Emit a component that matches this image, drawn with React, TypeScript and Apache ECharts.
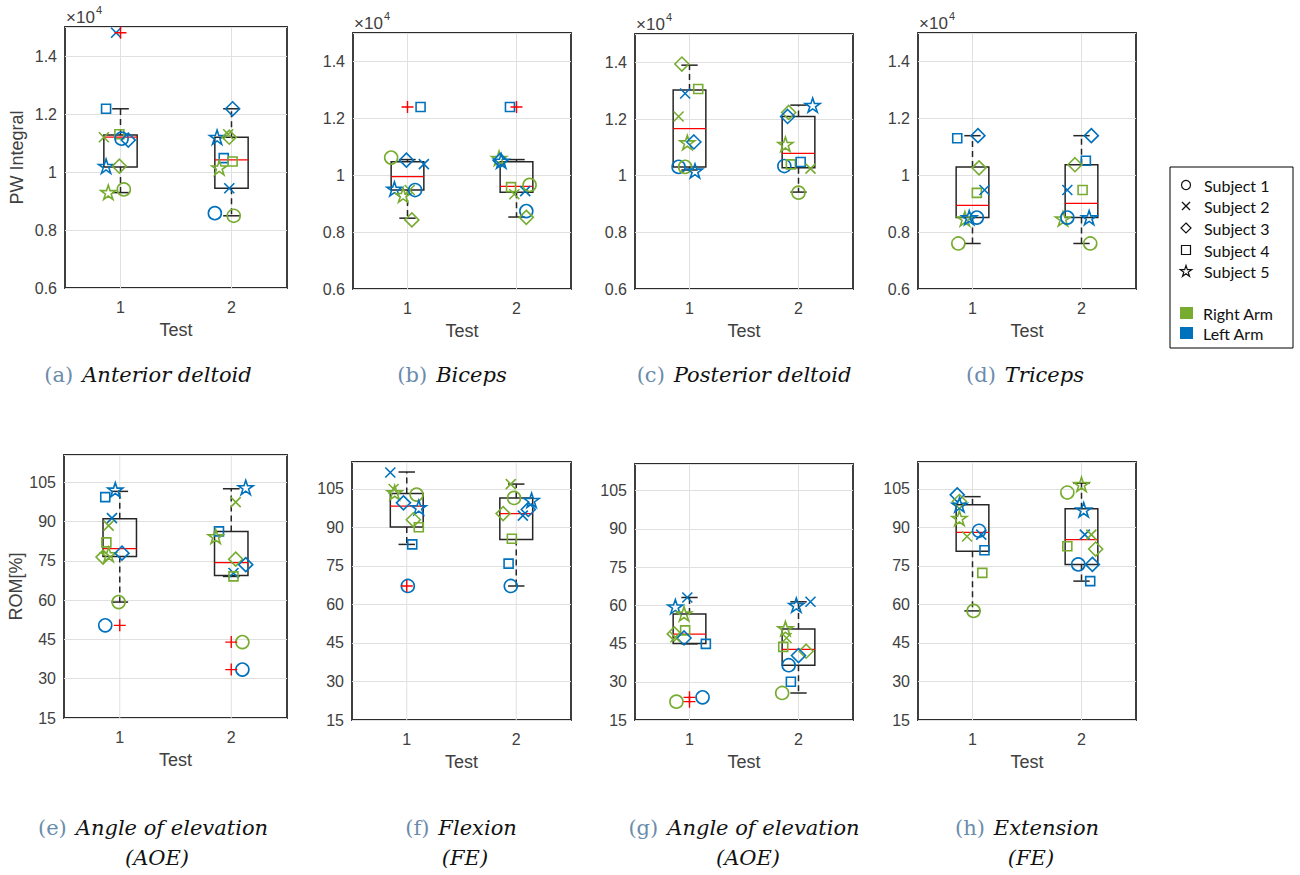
import React, { useEffect, useRef } from 'react';
import * as echarts from 'echarts';

// ---------- data ----------
const xTickLabels = ['1', '2'];
const pwTicks = [0.6, 0.8, 1, 1.2, 1.4];
const romTicks = [15, 30, 45, 60, 75, 90, 105];
const subjectLabels = ['Subject 1', 'Subject 2', 'Subject 3', 'Subject 4', 'Subject 5'];
const armLabels = ['Right Arm', 'Left Arm'];

// box: [test, lowerWhisker, q1, median, q3, upperWhisker]
// points: [x, value, subject, arm(0 right, 1 left)]
const boxA = [[1, 0.929, 1.017, 1.12, 1.128, 1.218], [2, 0.849, 0.944, 1.042, 1.12, 1.218]];
const outA = [[1, 1.48]];
const ptsA = [
  [0.96, 1.48, 2, 1], [0.87, 1.218, 4, 1], [0.85, 1.12, 2, 0], [0.99, 1.13, 4, 0], [1.01, 1.115, 1, 1],
  [1.07, 1.11, 3, 1], [0.87, 1.02, 5, 1], [0.99, 1.02, 3, 0], [1.03, 0.94, 1, 0], [0.89, 0.93, 5, 0],
  [2.01, 1.218, 3, 1], [1.87, 1.12, 5, 1], [1.98, 1.12, 3, 0], [1.93, 1.048, 4, 1], [2.01, 1.036, 4, 0],
  [1.89, 1.015, 5, 0], [1.98, 0.944, 2, 1], [1.85, 0.858, 1, 1], [2.02, 0.849, 1, 0], [1.97, 1.13, 2, 0],
];

const boxB = [[1, 0.849, 0.948, 0.995, 1.047, 1.055], [2, 0.853, 0.94, 0.961, 1.047, 1.055]];
const outB = [[1, 1.24], [2, 1.24]];
const ptsB = [
  [1.12, 1.24, 4, 1], [0.85, 1.062, 1, 0], [0.99, 1.053, 3, 1], [1.15, 1.039, 2, 1], [0.88, 0.952, 5, 1],
  [0.96, 0.93, 5, 0], [1.02, 0.948, 2, 0], [1.07, 0.948, 1, 1], [1.04, 0.843, 3, 0],
  [1.94, 1.24, 4, 1], [1.84, 1.06, 5, 0], [1.85, 1.052, 3, 1], [1.86, 1.05, 5, 1], [1.95, 0.958, 4, 0],
  [1.98, 0.933, 2, 0], [2.08, 0.944, 2, 1], [2.12, 0.966, 1, 0], [2.09, 0.874, 1, 1], [2.09, 0.852, 3, 0],
];

const boxC = [[1, 1.02, 1.031, 1.166, 1.302, 1.39], [2, 0.942, 1.028, 1.079, 1.209, 1.249]];
const outC: number[][] = [];
const ptsC = [
  [0.93, 1.394, 3, 0], [0.96, 1.29, 2, 1], [1.08, 1.306, 4, 0], [0.9, 1.209, 2, 0], [0.98, 1.117, 5, 0],
  [1.04, 1.119, 3, 1], [0.9, 1.031, 1, 1], [0.96, 1.031, 1, 0], [1.05, 1.017, 5, 1],
  [2.13, 1.249, 5, 1], [1.91, 1.223, 3, 0], [1.9, 1.209, 3, 1], [1.88, 1.111, 5, 0], [1.87, 1.034, 1, 1],
  [1.93, 1.04, 4, 0], [2.02, 1.048, 4, 1], [2.11, 1.025, 2, 0], [2.0, 0.94, 1, 0],
];

const boxD = [[1, 0.76, 0.851, 0.894, 1.029, 1.139], [2, 0.76, 0.851, 0.901, 1.037, 1.139]];
const outD: number[][] = [];
const ptsD = [
  [0.86, 1.13, 4, 1], [1.05, 1.139, 3, 1], [1.06, 1.026, 3, 0], [1.04, 0.938, 4, 0], [1.11, 0.948, 2, 1],
  [0.93, 0.847, 5, 0], [0.97, 0.851, 5, 1], [1.04, 0.851, 1, 1], [0.87, 0.76, 1, 0],
  [2.09, 1.139, 3, 1], [2.04, 1.051, 4, 1], [1.94, 1.037, 3, 0], [1.87, 0.948, 2, 1], [2.01, 0.948, 4, 0],
  [1.83, 0.847, 5, 0], [1.87, 0.851, 1, 1], [2.07, 0.851, 5, 1], [2.08, 0.76, 1, 0],
];

const boxE = [[1, 59.3, 76.7, 79.7, 91.1, 101.6], [2, 69.1, 69.5, 74.4, 86.3, 102.6]];
const outE = [[1, 50.4], [2, 44.0], [2, 33.5]];
const ptsE = [
  [0.96, 102.2, 5, 1], [0.87, 99.4, 4, 1], [0.93, 91.4, 2, 1], [0.9, 88.5, 2, 0], [0.88, 82.1, 4, 0],
  [0.9, 77.5, 5, 0], [0.85, 76.5, 3, 0], [1.02, 78, 3, 1], [0.99, 59.3, 1, 0], [0.87, 50.4, 1, 1],
  [2.13, 103.1, 5, 1], [2.04, 97.5, 2, 0], [1.89, 86.3, 4, 1], [1.86, 84.4, 5, 0], [2.04, 75.7, 3, 0],
  [2.13, 73.6, 3, 1], [2.02, 70.4, 2, 1], [2.02, 69.1, 4, 0], [2.1, 44.0, 1, 0], [2.1, 33.5, 1, 1],
];

const boxF = [[1, 83.4, 90.2, 98.3, 103.2, 111.6], [2, 67.2, 85.3, 95.4, 101.5, 106.9]];
const outF = [[1, 67.2]];
const ptsF = [
  [0.85, 111.4, 2, 1], [0.88, 105, 2, 0], [0.89, 103.6, 5, 0], [1.09, 102.8, 1, 0], [0.97, 99.6, 3, 1],
  [1.11, 97.8, 5, 1], [1.06, 93, 3, 0], [1.11, 90.1, 4, 0], [1.05, 83.4, 4, 1], [1.01, 67.2, 1, 1],
  [1.95, 106.9, 2, 0], [1.98, 101.5, 1, 0], [2.14, 100.6, 5, 1], [1.88, 95.4, 3, 0], [2.11, 97, 3, 1],
  [2.06, 94.6, 2, 1], [1.96, 85.6, 4, 0], [1.93, 75.9, 4, 1], [1.95, 67.2, 1, 1],
];

const boxG = [[1, 44.9, 45.0, 48.7, 56.6, 63.1], [2, 25.6, 36.5, 42.7, 50.7, 61.4]];
const outG = [[1, 22.2], [1, 23.9]];
const ptsG = [
  [0.87, 59.5, 5, 1], [0.98, 63.1, 2, 1], [0.95, 56.7, 5, 0], [0.86, 48.8, 3, 0], [0.96, 50.2, 4, 0],
  [0.95, 47.2, 3, 1], [0.87, 47.5, 2, 0], [1.15, 44.9, 4, 1], [0.88, 22.2, 1, 0], [1.12, 23.9, 1, 1],
  [1.98, 60.1, 5, 1], [2.11, 61.4, 2, 1], [1.88, 50.9, 5, 0], [1.89, 47.2, 2, 0], [1.86, 43.7, 4, 0],
  [2.07, 42.0, 3, 0], [2.0, 40.3, 3, 1], [1.91, 36.5, 1, 1], [1.93, 30, 4, 1], [1.85, 25.6, 1, 0],
];

const boxH = [[1, 57.5, 80.7, 88.1, 98.8, 102], [2, 69.1, 75.6, 85.3, 97.3, 107.2]];
const outH: number[][] = [];
const ptsH = [
  [0.86, 102.7, 3, 1], [0.88, 100.1, 3, 0], [0.88, 98.8, 5, 1], [0.88, 93.6, 5, 0], [0.95, 86.5, 2, 0],
  [1.06, 88.7, 1, 1], [1.08, 87.2, 2, 1], [1.11, 81.1, 4, 1], [1.09, 72.3, 4, 0], [1.01, 57.5, 1, 0],
  [2.0, 106.8, 5, 0], [1.87, 103.6, 1, 0], [2.02, 96.9, 5, 1], [2.03, 87.2, 2, 1], [2.09, 87.2, 2, 0],
  [1.87, 82.7, 4, 0], [2.13, 81.6, 3, 0], [1.97, 75.6, 1, 1], [2.1, 75.6, 3, 1], [2.08, 69.1, 4, 1],
];

// ---------- style / layout ----------
const GREEN = '#77AC30';
const BLUE = '#0072BD';
const ARM_COLORS = [GREEN, BLUE];
const AXIS_TXT = '#404040';
const SANS = 'Liberation Sans, Arial, sans-serif';
const SERIF = 'DejaVu Serif, serif';
const BOX_HALF = 0.15;
const CAP_HALF = 0.075;

function starPoints(cx: number, cy: number, r: number) {
  const pts: number[][] = [];
  for (let i = 0; i < 10; i++) {
    const rr = i % 2 ? r * 0.382 : r;
    const a = -Math.PI / 2 + (i * Math.PI) / 5;
    pts.push([cx + rr * Math.cos(a), cy + rr * Math.sin(a)]);
  }
  return pts;
}
const STAR_PATH = 'path://M' + starPoints(0, 0, 10).map((p) => p[0].toFixed(3) + ',' + p[1].toFixed(3)).join('L') + 'Z';
const SYMBOLS = ['circle', 'path://M0,0L10,10M0,10L10,0', 'diamond', 'rect', STAR_PATH];
const SIZES = [13, 10, 14, 9, 15];
const PLUS = 'path://M5,0L5,10M0,5L10,5';

const panels = [
  { box: boxA, out: outA, pts: ptsA, top: true, grid: { left: 65, top: 27, width: 222, height: 261 }, lab: '(a)', cap: 'Anterior deltoid', cx: 148, yName: 'PW Integral' },
  { box: boxB, out: outB, pts: ptsB, top: true, grid: { left: 353, top: 33, width: 218, height: 256 }, lab: '(b)', cap: 'Biceps', cx: 452 },
  { box: boxC, out: outC, pts: ptsC, top: true, grid: { left: 635, top: 34, width: 218, height: 255 }, lab: '(c)', cap: 'Posterior deltoid', cx: 744 },
  { box: boxD, out: outD, pts: ptsD, top: true, grid: { left: 918, top: 33, width: 218, height: 256 }, lab: '(d)', cap: 'Triceps', cx: 1025 },
  { box: boxE, out: outE, pts: ptsE, top: false, grid: { left: 64, top: 455, width: 223, height: 263 }, lab: '(e)', cap: 'Angle of elevation', cap2: '(AOE)', cx: 153, yName: 'ROM[%]' },
  { box: boxF, out: outF, pts: ptsF, top: false, grid: { left: 352, top: 462, width: 219, height: 258 }, lab: '(f)', cap: 'Flexion', cap2: '(FE)', cx: 461 },
  { box: boxG, out: outG, pts: ptsG, top: false, grid: { left: 635, top: 464, width: 218, height: 256 }, lab: '(g)', cap: 'Angle of elevation', cap2: '(AOE)', cx: 744 },
  { box: boxH, out: outH, pts: ptsH, top: false, grid: { left: 918, top: 462, width: 218, height: 258 }, lab: '(h)', cap: 'Extension', cap2: '(FE)', cx: 1027 },
];

function tickFormatter(ticks: number[]) {
  return (v: number) => {
    const t = ticks.find((k) => Math.abs(k - v) < 1e-6);
    return t === undefined ? '' : String(t);
  };
}

function renderBox(params: any, api: any) {
  const x = api.value(0);
  const lw = api.value(1), q1 = api.value(2), md = api.value(3), q3 = api.value(4), uw = api.value(5);
  const xl = api.coord([x - BOX_HALF, q1])[0];
  const xr = api.coord([x + BOX_HALF, q1])[0];
  const xc = api.coord([x, q1])[0];
  const cl = api.coord([x - CAP_HALF, q1])[0];
  const cr = api.coord([x + CAP_HALF, q1])[0];
  const yq1 = api.coord([x, q1])[1];
  const yq3 = api.coord([x, q3])[1];
  const ymd = api.coord([x, md])[1];
  const yuw = api.coord([x, uw])[1];
  const ylw = api.coord([x, lw])[1];
  const cs = params.coordSys;
  const k = '#262626';
  return {
    type: 'group',
    children: [
      { type: 'line', shape: { x1: xc, y1: cs.y, x2: xc, y2: cs.y + cs.height }, style: { stroke: '#e0e0e0', lineWidth: 1 } },
      { type: 'line', shape: { x1: xc, y1: yq3, x2: xc, y2: yuw }, style: { stroke: k, lineWidth: 1.5, lineDash: [6, 4] } },
      { type: 'line', shape: { x1: xc, y1: yq1, x2: xc, y2: ylw }, style: { stroke: k, lineWidth: 1.5, lineDash: [6, 4] } },
      { type: 'line', shape: { x1: cl, y1: yuw, x2: cr, y2: yuw }, style: { stroke: k, lineWidth: 1.5 } },
      { type: 'line', shape: { x1: cl, y1: ylw, x2: cr, y2: ylw }, style: { stroke: k, lineWidth: 1.5 } },
      { type: 'rect', shape: { x: xl, y: yq3, width: xr - xl, height: yq1 - yq3 }, style: { fill: 'none', stroke: k, lineWidth: 1.5 } },
      { type: 'line', shape: { x1: xl, y1: ymd, x2: xr, y2: ymd }, style: { stroke: '#ff0000', lineWidth: 1.3 } },
    ],
  };
}

function buildOption() {
  const grid: any[] = [];
  const xAxis: any[] = [];
  const yAxis: any[] = [];
  const series: any[] = [];
  const graphics: any[] = [];

  panels.forEach((p, i) => {
    grid.push({ ...p.grid, show: true, borderColor: '#2b2b2b', borderWidth: 1.8, backgroundColor: '#fff', containLabel: false });
    xAxis.push({
      gridIndex: i, type: 'value', min: 0.5, max: 2.5, interval: 0.5,
      axisLine: { show: false }, axisTick: { show: false }, splitLine: { show: false },
      axisLabel: {
        margin: 11, fontSize: 16, color: AXIS_TXT, fontFamily: SANS,
        formatter: (v: number) => {
          const r = Math.round(v);
          return Math.abs(v - r) < 1e-6 && r >= 1 && r <= xTickLabels.length ? xTickLabels[r - 1] : '';
        },
      },
      name: 'Test', nameLocation: 'middle', nameGap: 33,
      nameTextStyle: { fontSize: 18, color: AXIS_TXT, fontFamily: SANS },
    });
    const ticks = p.top ? pwTicks : romTicks;
    yAxis.push({
      gridIndex: i, type: 'value',
      min: p.top ? 0.6 : 15, max: p.top ? 1.5 : 115.5, interval: p.top ? 0.2 : 15,
      axisLine: { show: false }, axisTick: { show: false },
      splitLine: { show: true, lineStyle: { color: '#e0e0e0', width: 1 } },
      axisLabel: { margin: 8, fontSize: 16, color: AXIS_TXT, fontFamily: SANS, showMaxLabel: false, formatter: tickFormatter(ticks) },
      name: p.yName || '', nameLocation: 'middle', nameGap: 39,
      nameTextStyle: { fontSize: 18, color: AXIS_TXT, fontFamily: SANS },
    });
    series.push({
      type: 'custom', xAxisIndex: i, yAxisIndex: i, z: 2, silent: true,
      data: p.box, encode: { x: 0, y: [1, 2, 3, 4, 5] }, renderItem: renderBox,
    });
    series.push({
      type: 'scatter', xAxisIndex: i, yAxisIndex: i, z: 3, silent: true, symbolKeepAspect: true,
      data: p.pts.map(([x, y, s, a]) => ({
        value: [x, y], symbol: SYMBOLS[s - 1], symbolSize: SIZES[s - 1],
        itemStyle: { color: 'rgba(0,0,0,0)', borderColor: ARM_COLORS[a], borderWidth: 1.6, opacity: 1 },
      })),
    });
    series.push({
      type: 'scatter', xAxisIndex: i, yAxisIndex: i, z: 4, silent: true,
      symbol: PLUS, symbolSize: 12,
      itemStyle: { color: 'rgba(0,0,0,0)', borderColor: '#ff0000', borderWidth: 1.4, opacity: 1 },
      data: p.out,
    });

    if (p.top) {
      graphics.push({ type: 'text', x: p.grid.left + 1, y: p.grid.top - 10, style: { text: '×10', fontSize: 17, fontFamily: SANS, fill: AXIS_TXT, align: 'left', verticalAlign: 'middle' } });
      graphics.push({ type: 'text', x: p.grid.left + 31, y: p.grid.top - 17, style: { text: '4', fontSize: 11, fontFamily: SANS, fill: AXIS_TXT, align: 'left', verticalAlign: 'middle' } });
    }
    const capY = p.top ? 375 : 828;
    graphics.push({
      type: 'text', x: p.cx, y: capY,
      style: {
        text: '{l|' + p.lab + '}{c|' + p.cap + '}', align: 'center', verticalAlign: 'middle',
        rich: {
          l: { fontFamily: SERIF, fontSize: 21, fill: '#6a8cab', padding: [0, 9, 0, 0] },
          c: { fontFamily: SERIF, fontSize: 21, fontStyle: 'italic', fill: '#111' },
        },
      },
    });
    if (p.cap2) {
      graphics.push({ type: 'text', x: p.cx + 4, y: 858, style: { text: p.cap2, fontFamily: SERIF, fontSize: 21, fontStyle: 'italic', fill: '#111', align: 'center', verticalAlign: 'middle' } });
    }
  });

  // legend
  const lx = 1186;
  const ly = [185, 206, 228, 250, 271];
  const ink = { fill: 'none', stroke: '#111', lineWidth: 1.2 };
  graphics.push({ type: 'rect', shape: { x: 1170, y: 167, width: 123, height: 181 }, style: { fill: '#fff', stroke: '#000', lineWidth: 1 } });
  graphics.push({ type: 'circle', shape: { cx: lx, cy: ly[0], r: 4.5 }, style: ink });
  graphics.push({ type: 'line', shape: { x1: lx - 4, y1: ly[1] - 4, x2: lx + 4, y2: ly[1] + 4 }, style: ink });
  graphics.push({ type: 'line', shape: { x1: lx - 4, y1: ly[1] + 4, x2: lx + 4, y2: ly[1] - 4 }, style: ink });
  graphics.push({ type: 'polygon', shape: { points: [[lx, ly[2] - 5], [lx + 5, ly[2]], [lx, ly[2] + 5], [lx - 5, ly[2]]] }, style: ink });
  graphics.push({ type: 'rect', shape: { x: lx - 4.5, y: ly[3] - 4.5, width: 9, height: 9 }, style: ink });
  graphics.push({ type: 'polygon', shape: { points: starPoints(lx, ly[4] + 0.5, 6) }, style: ink });
  subjectLabels.forEach((t, j) => {
    graphics.push({ type: 'text', x: 1204, y: ly[j], style: { text: t, fontFamily: 'Lato, sans-serif', fontSize: 16, fill: '#111', align: 'left', verticalAlign: 'middle' } });
  });
  const ay = [313, 333];
  armLabels.forEach((t, j) => {
    graphics.push({ type: 'rect', shape: { x: 1180, y: ay[j] - 6, width: 13, height: 12 }, style: { fill: ARM_COLORS[j], stroke: 'none' } });
    graphics.push({ type: 'text', x: 1203, y: ay[j], style: { text: t, fontFamily: 'Lato, sans-serif', fontSize: 16, fill: '#111', align: 'left', verticalAlign: 'middle' } });
  });

  return {
    animation: false,
    backgroundColor: '#fff',
    grid, xAxis, yAxis, series,
    graphic: { elements: graphics },
  };
}

export default function App() {
  const ref = useRef<HTMLDivElement>(null);
  useEffect(() => {
    if (!ref.current) return;
    const chart = echarts.init(ref.current, undefined, { renderer: 'svg' });
    chart.setOption(buildOption() as any);
    return () => chart.dispose();
  }, []);
  return <div ref={ref} style={{ position: 'fixed', left: 0, top: 0, width: 1300, height: 875, background: '#fff' }} />;
}
